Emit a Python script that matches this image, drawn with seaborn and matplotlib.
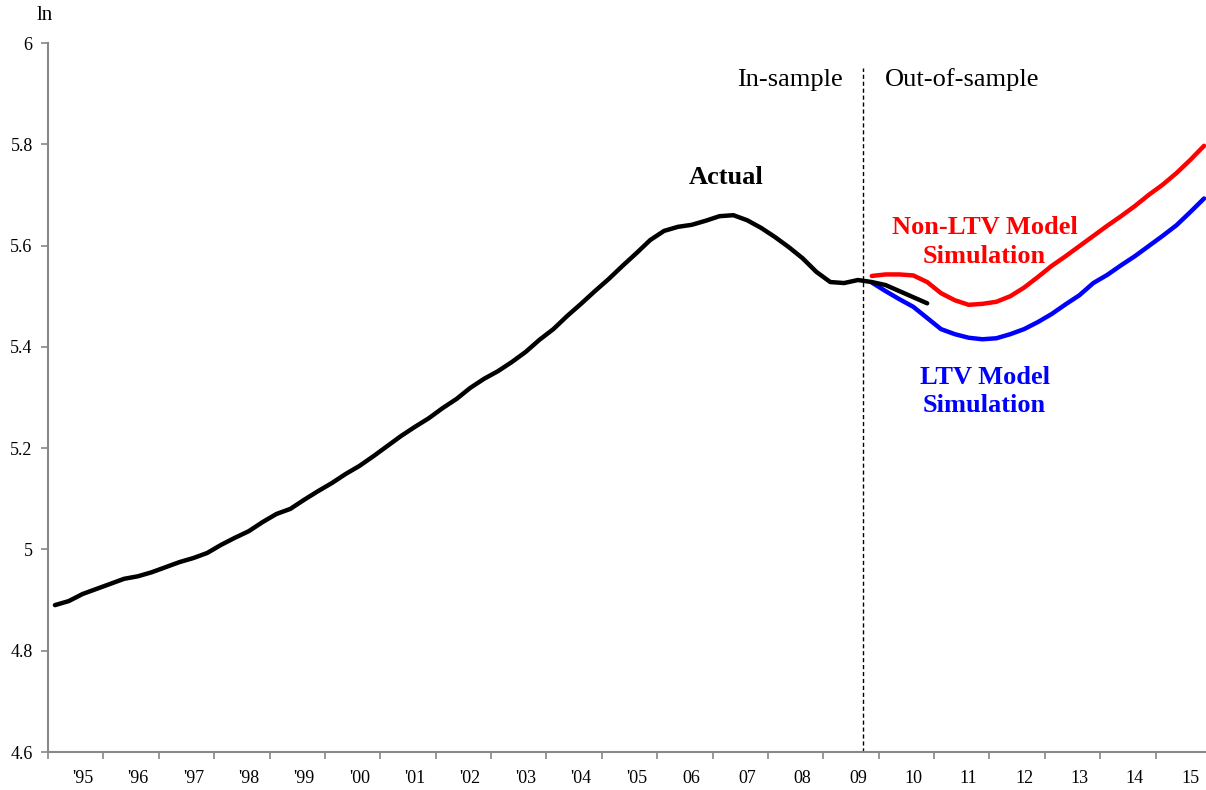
import numpy as np
import pandas as pd
import matplotlib
matplotlib.use("Agg")
import matplotlib.pyplot as plt
import seaborn as sns

# Quarterly index: 0 = 1995Q1 ... 83 = 2015Q4
actual = [4.890, 4.898, 4.912, 4.922, 4.932, 4.942, 4.947, 4.955, 4.965, 4.975,
          4.983, 4.993, 5.009, 5.023, 5.036, 5.054, 5.070, 5.080, 5.098, 5.115,
          5.131, 5.149, 5.165, 5.184, 5.204, 5.224, 5.242, 5.259, 5.279, 5.297,
          5.319, 5.337, 5.352, 5.370, 5.390, 5.414, 5.435, 5.461, 5.485, 5.510,
          5.534, 5.560, 5.585, 5.611, 5.629, 5.637, 5.641, 5.649, 5.658, 5.660,
          5.650, 5.635, 5.617, 5.597, 5.575, 5.548, 5.528, 5.526, 5.532, 5.528,
          5.522, 5.510, 5.498, 5.486]
non_ltv = [5.540, 5.543, 5.543, 5.541, 5.528, 5.506, 5.492, 5.483, 5.485, 5.489,
           5.500, 5.517, 5.538, 5.560, 5.579, 5.599, 5.619, 5.639, 5.658, 5.678,
           5.700, 5.720, 5.743, 5.769, 5.797]
ltv = [5.527, 5.510, 5.494, 5.479, 5.457, 5.435, 5.425, 5.418, 5.415, 5.417,
       5.425, 5.435, 5.449, 5.465, 5.484, 5.502, 5.526, 5.542, 5.561, 5.579,
       5.599, 5.619, 5.640, 5.666, 5.693]
sim_start = 59
year_labels = ["'95", "'96", "'97", "'98", "'99", "'00", "'01", "'02", "'03", "'04",
               "'05", "06", "07", "08", "09", "10", "11", "12", "13", "14", "15"]
y_ticks = [4.6, 4.8, 5.0, 5.2, 5.4, 5.6, 5.8, 6.0]
y_tick_labels = ["4.6", "4.8", "5", "5.2", "5.4", "5.6", "5.8", "6"]

df_act = pd.DataFrame({"q": np.arange(len(actual)), "v": actual})
df_non = pd.DataFrame({"q": np.arange(sim_start, sim_start + len(non_ltv)), "v": non_ltv})
df_ltv = pd.DataFrame({"q": np.arange(sim_start, sim_start + len(ltv)), "v": ltv})

sns.set_style("white")
plt.rcParams['font.family'] = ['Liberation Serif', 'DejaVu Serif']
plt.rcParams['text.color'] = 'black'

fig = plt.figure(figsize=(12.06, 7.9), dpi=100)
# axis extends slightly past the right edge of the picture (cropped, as in the reference)
ax = fig.add_axes([48/1206, 38/790, (1211-48)/1206, (752-43)/790])

sns.lineplot(data=df_ltv, x="q", y="v", color="#0000FF", lw=3.2, ax=ax)
sns.lineplot(data=df_non, x="q", y="v", color="#FF0000", lw=3.2, ax=ax)
sns.lineplot(data=df_act, x="q", y="v", color="black", lw=3.2, ax=ax)

ax.set_xlim(-0.5, 83.5)
ax.set_ylim(4.6, 6.0)
ax.axvline(58.4, ymin=0, ymax=(5.95-4.6)/1.4, color="black", lw=1, ls=(0, (3, 2)))

ax.set_xlabel("")
ax.set_ylabel("")
ax.set_yticks(y_ticks)
ax.set_yticklabels(y_tick_labels, fontsize=13)
ax.set_xticks(np.arange(-0.5, 84, 4))
ax.set_xticklabels([])
ax.set_xticks(np.arange(len(year_labels)) * 4 + 2.0, minor=True)
ax.set_xticklabels(year_labels, minor=True, fontsize=13)
ax.tick_params(axis="x", which="minor", length=0, pad=13, labelcolor="black")
ax.tick_params(axis="x", which="major", length=5, color="#888888", direction="out",
               width=1.2, bottom=True)
ax.tick_params(axis="y", length=5, color="#888888", direction="out", width=1.2, pad=6,
               left=True, labelcolor="black")

for s in ["top", "right"]:
    ax.spines[s].set_visible(False)
for s in ["left", "bottom"]:
    ax.spines[s].set_color("#888888")
    ax.spines[s].set_linewidth(1.5)

fig.text(45/1206, 1 - 16/790, "ln", fontsize=15, ha="center", va="center", color="black")

ax.text(48.45, 5.735, "Actual", fontsize=19, fontweight="bold", ha="center", va="center",
        color="black")
ax.text(67.15, 5.607, "Non-LTV Model\nSimulation", fontsize=19, fontweight="bold",
        color="#FF0000", ha="center", va="center", linespacing=1.3)
ax.text(67.15, 5.312, "LTV Model\nSimulation", fontsize=19, fontweight="bold",
        color="#0000FF", ha="center", va="center", linespacing=1.3)
ax.text(53.07, 5.927, "In-sample", fontsize=19, ha="center", va="center", color="black")
ax.text(65.5, 5.927, "Out-of-sample", fontsize=19, ha="center", va="center", color="black")

fig.savefig("out.png", dpi=100)
